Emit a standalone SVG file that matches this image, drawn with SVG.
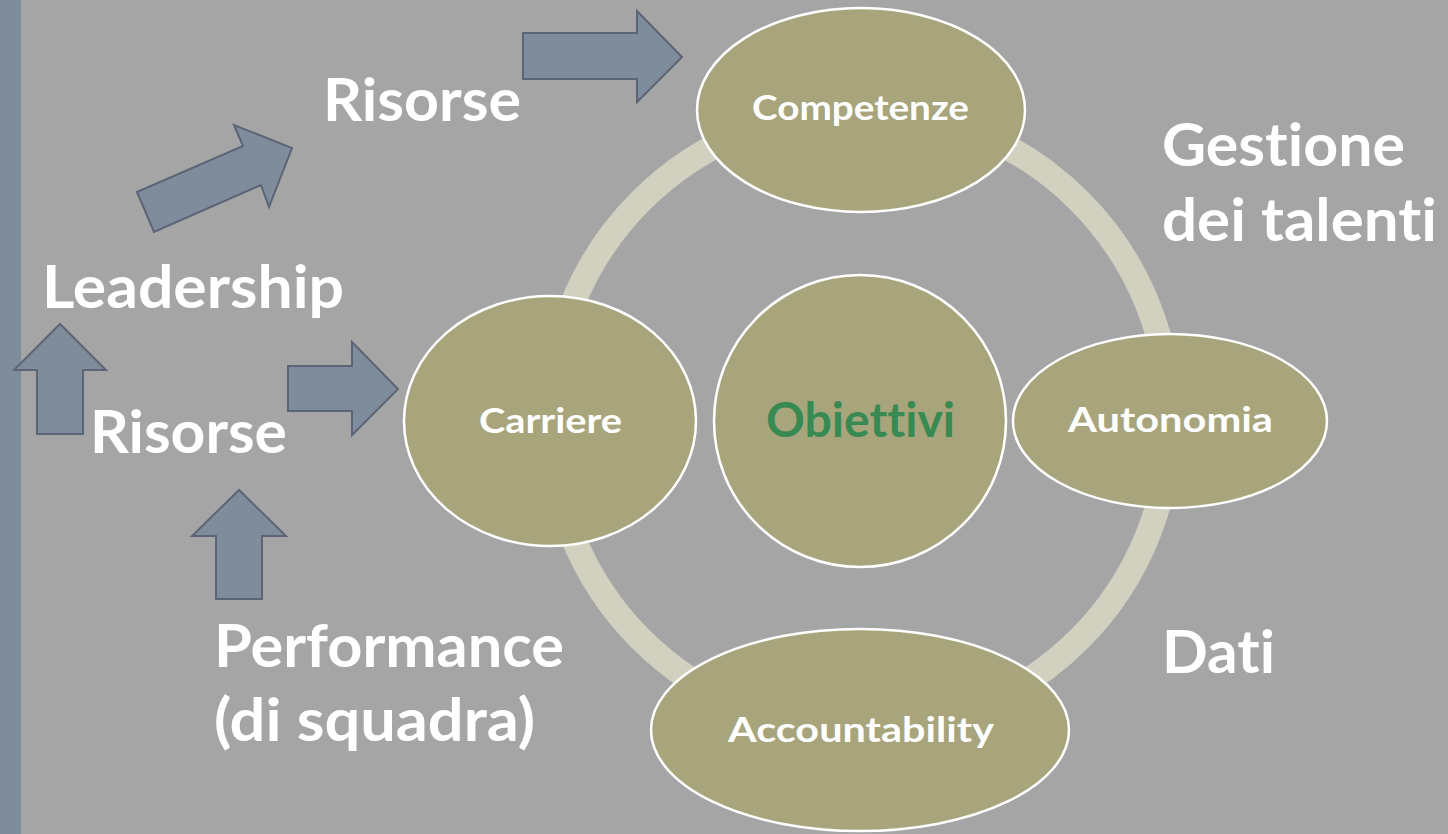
<svg xmlns="http://www.w3.org/2000/svg" width="1448" height="834" viewBox="0 0 1448 834">
  <defs>
    <style>
      .bg { fill: #a5a5a5; }
      .bar { fill: #7f8c9c; }
      .ring { fill: none; stroke: #d2d1c0; stroke-width: 25; }
      .node { fill: #a8a57c; stroke: #ffffff; stroke-width: 2.5; }
      .arrow { fill: #7f8c9c; stroke: #5b6575; stroke-width: 2; stroke-linejoin: miter; }
      .lbl { font-family: Lato, "Liberation Sans", sans-serif; font-weight: bold; fill: #ffffff;
             font-variant-ligatures: none; font-feature-settings: "liga" 0, "clig" 0, "dlig" 0; }
      .big { font-size: 60px; }
      .small { font-size: 35px; }
      .center { font-size: 47px; fill: #388a52; }
    </style>
  </defs>

  <!-- canvas -->
  <rect class="bg" x="0" y="0" width="1448" height="834"/>
  <rect class="bar" x="0" y="0" width="21" height="834"/>

  <!-- cycle ring and block arrows -->
  <g id="connectors">
    <circle class="ring" cx="860" cy="420" r="310"/>
    <polygon class="arrow" points="523,33 637,33 637,11 682,57 637,102 637,79 523,79"/>
    <polygon class="arrow" points="137,192 243,146 234,125 292,148 269,207 261,185 154,232"/>
    <polygon class="arrow" points="37,434 37,370 14,370 60,324 106,370 83,370 83,434"/>
    <polygon class="arrow" points="288,366 352,366 352,342 398,389 352,435 352,411 288,411"/>
    <polygon class="arrow" points="216,599 216,536 192,536 239,490 286,536 262,536 262,599"/>
  </g>

  <g id="node-competenze">
    <ellipse class="node" cx="861" cy="110" rx="164" ry="102"/>
    <text class="lbl small" x="752" y="120" textLength="217" lengthAdjust="spacingAndGlyphs">Competenze</text>
  </g>
  <g id="node-carriere">
    <ellipse class="node" cx="550" cy="421" rx="146" ry="125"/>
    <text class="lbl small" x="479" y="433" textLength="143" lengthAdjust="spacingAndGlyphs">Carriere</text>
  </g>
  <g id="node-obiettivi">
    <circle class="node" cx="860" cy="421" r="146"/>
    <text class="lbl center" x="766" y="437" textLength="189" lengthAdjust="spacingAndGlyphs">Obiettivi</text>
  </g>
  <g id="node-autonomia">
    <ellipse class="node" cx="1170" cy="421" rx="157" ry="87"/>
    <text class="lbl small" x="1068" y="432" textLength="205" lengthAdjust="spacingAndGlyphs">Autonomia</text>
  </g>
  <g id="node-accountability">
    <ellipse class="node" cx="860" cy="730" rx="209" ry="101"/>
    <text class="lbl small" x="728" y="742" textLength="266" lengthAdjust="spacingAndGlyphs">Accountability</text>
  </g>

  <!-- free labels -->
  <g id="labels">
    <text class="lbl big" x="323" y="121" textLength="198" lengthAdjust="spacingAndGlyphs">Risorse</text>
    <text class="lbl big" x="42" y="308" textLength="302" lengthAdjust="spacingAndGlyphs">Leadership</text>
    <text class="lbl big" x="90" y="453" textLength="197" lengthAdjust="spacingAndGlyphs">Risorse</text>
    <text class="lbl big" x="214" y="667" textLength="350" lengthAdjust="spacingAndGlyphs">Performance</text>
    <text class="lbl big" x="214" y="741" textLength="321" lengthAdjust="spacingAndGlyphs">(di squadra)</text>
    <text class="lbl big" x="1162" y="166" textLength="243" lengthAdjust="spacingAndGlyphs">Gestione</text>
    <text class="lbl big" x="1162" y="241" textLength="275" lengthAdjust="spacingAndGlyphs">dei talenti</text>
    <text class="lbl big" x="1162" y="673" textLength="113" lengthAdjust="spacingAndGlyphs">Dati</text>
  </g>
</svg>
